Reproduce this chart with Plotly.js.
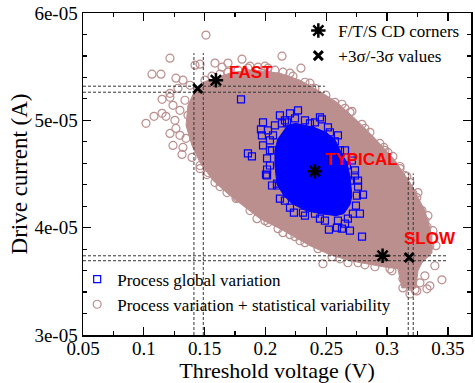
<!DOCTYPE html>
<html>
<head>
<meta charset="utf-8">
<script src="https://cdn.plot.ly/plotly-3.0.1.min.js"></script>
<style>html,body{margin:0;padding:0;background:#fff;}#chart{width:475px;height:383px;}</style>
</head>
<body>
<div id="chart"></div>
<script>
// ---- Data (threshold voltage in V, drive current in A) ----
// Dense part of "process variation + statistical variability" cloud (outline)
var cloudVt = [0.1486,0.1585,0.1733,0.1914,0.2119,0.2284,0.2432,0.2588,0.2752,0.2900,0.3065,0.3204,0.3311,0.3369,0.3369,0.3287,0.3254,0.3237,0.3122,0.3089,0.2966,0.2695,0.2530,0.2366,0.2119,0.1955,0.1832,0.1708,0.1569,0.1462,0.1396,0.1347,0.1363,0.1421];
var cloudId = [5.355e-5,5.393e-5,5.449e-5,5.467e-5,5.439e-5,5.374e-5,5.280e-5,5.168e-5,5.000e-5,4.832e-5,4.626e-5,4.393e-5,4.159e-5,3.925e-5,3.766e-5,3.673e-5,3.598e-5,3.439e-5,3.439e-5,3.617e-5,3.636e-5,3.692e-5,3.748e-5,3.832e-5,3.991e-5,4.084e-5,4.187e-5,4.299e-5,4.439e-5,4.607e-5,4.766e-5,4.953e-5,5.140e-5,5.280e-5];
// Individual sample points around the cloud
var statVt = [0.1511,0.1215,0.1067,0.1141,0.1018,0.1084,0.1150,0.1182,0.1150,0.1215,0.1264,0.1322,0.1462,0.1585,0.1692,0.1215,0.1240,0.1314,0.1396,0.1462,0.1240,0.1297,0.1807,0.2136,0.2292,0.2144,0.2202,0.1643,0.1421,0.2382,0.2448,0.2571,0.2711,0.2941,0.2974,0.3048,0.3213,0.3007,0.3106,0.3188,0.3245,0.3287,0.3311,0.3328,0.3451,0.3352,0.3245,0.3188,0.3130,0.2473,0.3328,0.3229,0.3130,0.1914,0.1996,0.2103,0.2144,0.2325,0.2547,0.2678,0.1528,0.1585,0.1684,0.1766,0.1930,0.1322,0.1215,0.1256,0.1297,0.1338,0.1363,0.1281,0.1264,0.1380,0.1347,0.1873,0.1996,0.2366,0.2654,0.2818,0.3147,0.3352,0.3040,0.2818,0.2243,
  0.1503,0.1560,0.1626,0.1692,0.1774,0.1856,0.1939,0.2021,0.2078,0.2226,0.2325,0.2407,0.2497,0.2629,0.2695,0.2793,0.2859,0.2982,0.3106,0.3163,0.3254,0.3336,0.3377,0.3402,
  0.1462,0.1519,0.1626,0.1758,0.1873,0.2021,0.2202,0.2284,0.2432,0.2613,0.2761,0.2900,0.3024,
  0.3147,0.3204,0.3270,0.3311,0.3393];
var statId = [5.794e-5,5.579e-5,5.430e-5,5.430e-5,4.972e-5,5.037e-5,5.065e-5,5.037e-5,5.196e-5,5.215e-5,5.393e-5,5.374e-5,5.523e-5,5.533e-5,5.533e-5,4.878e-5,4.766e-5,4.682e-5,4.654e-5,4.551e-5,5.140e-5,5.093e-5,5.570e-5,5.598e-5,5.486e-5,5.449e-5,5.439e-5,5.495e-5,5.514e-5,5.299e-5,5.215e-5,5.168e-5,5.084e-5,4.785e-5,4.748e-5,4.664e-5,4.318e-5,4.701e-5,4.551e-5,4.421e-5,4.280e-5,4.159e-5,4.065e-5,4.009e-5,3.514e-5,3.458e-5,3.411e-5,3.383e-5,3.439e-5,3.664e-5,3.430e-5,3.421e-5,3.523e-5,4.224e-5,4.065e-5,3.991e-5,3.953e-5,3.860e-5,3.729e-5,3.673e-5,4.514e-5,4.421e-5,4.327e-5,4.280e-5,4.084e-5,4.748e-5,5.252e-5,5.000e-5,4.860e-5,5.187e-5,5.047e-5,5.299e-5,4.925e-5,5.327e-5,4.832e-5,5.505e-5,5.505e-5,5.346e-5,5.112e-5,4.925e-5,4.486e-5,3.832e-5,3.598e-5,3.654e-5,3.916e-5,
  5.374e-5,5.411e-5,5.430e-5,5.449e-5,5.467e-5,5.486e-5,5.495e-5,5.486e-5,5.467e-5,5.411e-5,5.355e-5,5.299e-5,5.234e-5,5.150e-5,5.075e-5,4.963e-5,4.888e-5,4.720e-5,4.570e-5,4.477e-5,4.327e-5,4.112e-5,3.972e-5,3.832e-5,
  4.579e-5,4.495e-5,4.383e-5,4.271e-5,4.159e-5,4.047e-5,3.935e-5,3.878e-5,3.804e-5,3.710e-5,3.673e-5,3.636e-5,3.617e-5,
  3.505e-5,3.467e-5,3.486e-5,3.551e-5,3.645e-5];
// Dense core of "process global variation" (outline)
var coreVt = [0.2177,0.2251,0.2325,0.2399,0.2497,0.2571,0.2621,0.2670,0.2695,0.2711,0.2695,0.2645,0.2580,0.2448,0.2333,0.2218,0.2152,0.2095,0.2078,0.2078,0.2103];
var coreId = [4.953e-5,4.972e-5,4.953e-5,4.935e-5,4.888e-5,4.822e-5,4.701e-5,4.607e-5,4.477e-5,4.299e-5,4.215e-5,4.131e-5,4.112e-5,4.131e-5,4.159e-5,4.224e-5,4.299e-5,4.402e-5,4.579e-5,4.720e-5,4.832e-5];
// Individual global-variation samples
var globVt = [0.1799,0.1856,0.1889,0.1980,0.1963,0.1971,0.1980,0.2021,0.2054,0.2013,0.2013,0.2013,0.2095,0.2119,0.2202,0.2268,0.2366,0.2448,0.2464,0.2530,0.2571,0.2136,0.2177,0.2670,0.2695,0.2761,0.2761,0.2802,0.2777,0.2794,0.2695,0.2629,0.2588,0.2522,0.2489,0.2654,0.2234,0.2308,0.2095,0.2004,0.2407,0.2719,0.2078,0.2613,0.2736,0.2160,0.2037,
  0.2160,0.2243,0.2325,0.2407,0.2514,0.2596,0.2654,0.2711,0.2736,0.2752,0.2744,0.2678,0.2596,0.2448,0.2325,0.2202,0.2119,0.2054,0.2037,0.2037,0.2062];
var globId = [5.196e-5,4.692e-5,4.664e-5,4.981e-5,4.916e-5,4.860e-5,4.766e-5,4.907e-5,4.720e-5,4.645e-5,4.542e-5,4.486e-5,4.393e-5,5.047e-5,5.065e-5,5.093e-5,4.972e-5,5.028e-5,5.009e-5,4.888e-5,4.804e-5,4.972e-5,4.981e-5,4.579e-5,4.439e-5,4.439e-5,4.383e-5,4.308e-5,4.131e-5,3.916e-5,3.972e-5,3.991e-5,4.000e-5,3.981e-5,4.065e-5,4.037e-5,4.140e-5,4.140e-5,4.411e-5,4.495e-5,4.131e-5,4.131e-5,4.953e-5,4.720e-5,4.533e-5,4.252e-5,4.813e-5,
  5.000e-5,5.019e-5,5.000e-5,4.981e-5,4.935e-5,4.860e-5,4.720e-5,4.626e-5,4.486e-5,4.299e-5,4.206e-5,4.084e-5,4.065e-5,4.084e-5,4.112e-5,4.187e-5,4.271e-5,4.393e-5,4.579e-5,4.720e-5,4.860e-5];
// Fast / Typical / Slow corners
var cornerVt = [0.1593,0.2407,0.2963];
var cornerId = [5.374e-5,4.526e-5,3.738e-5];
var cornerNames = ["FAST","TYPICAL","SLOW"];
// +3 sigma / -3 sigma values
var sigmaVt = [0.1443,0.3182];
var sigmaId = [5.296e-5,3.722e-5];
// Guide lines (dashed)
var fastHlineId = [5.318e-5,5.262e-5];
var fastHlineEndVt = 0.2489;
var fastVlineVt = [0.1412,0.1489];
var fastVlineTopId = 5.626e-5;
var slowHlineId = [3.738e-5,3.692e-5];
var slowHlineEndVt = 0.35;
var slowVlineVt = [0.3174,0.3215];
var slowVlineTopId = 4.505e-5;
// Axes
var xTickVals = [0.05,0.1,0.15,0.2,0.25,0.3,0.35];
var xTickText = ["0.05","0.1","0.15","0.2","0.25","0.3","0.35"];
var yTickVals = [3e-5,4e-5,5e-5,6e-5];
var yTickText = ["3e-05","4e-05","5e-05","6e-05"];
var xMin = 0.05, xMax = 0.369, yMin = 3e-5, yMax = 6e-5;

var brown = "rgb(188,143,143)";
var serif = "Liberation Serif, Times New Roman, serif";
var traces = [];

traces.push({x: cloudVt, y: cloudId, type: "scatter", mode: "lines", fill: "toself",
  fillcolor: brown, line: {color: brown, width: 1}, showlegend: false, hoverinfo: "skip"});
traces.push({x: statVt, y: statId, type: "scatter", mode: "markers", name: "Process variation + statistical variability",
  legend: "legend2", legendrank: 2,
  marker: {symbol: "circle-open", size: 8, color: brown, line: {width: 1.2, color: brown}}});
traces.push({x: coreVt, y: coreId, type: "scatter", mode: "lines", fill: "toself",
  fillcolor: "#0000ff", line: {color: "#0000ff", width: 1}, showlegend: false, hoverinfo: "skip"});
traces.push({x: globVt, y: globId, type: "scatter", mode: "markers", name: "Process global variation",
  legend: "legend2", legendrank: 1,
  marker: {symbol: "square-open", size: 7, color: "#0000ff", line: {width: 1.2, color: "#0000ff"}}});

function dashed(xs, ys) {
  traces.push({x: xs, y: ys, type: "scatter", mode: "lines", showlegend: false, hoverinfo: "skip",
    line: {color: "#333", width: 1, dash: "3px,2px"}});
}
fastHlineId.forEach(function (v) { dashed([xMin, fastHlineEndVt], [v, v]); });
fastVlineVt.forEach(function (v) { dashed([v, v], [yMin, fastVlineTopId]); });
slowHlineId.forEach(function (v) { dashed([xMin, slowHlineEndVt], [v, v]); });
slowVlineVt.forEach(function (v) { dashed([v, v], [yMin, slowVlineTopId]); });

traces.push({x: cornerVt, y: cornerId, type: "scatter", mode: "markers", name: "F/T/S CD corners",
  legend: "legend", legendrank: 1,
  marker: {symbol: "asterisk-open", size: 12, color: "#000", line: {width: 2.5, color: "#000"}}});
traces.push({x: sigmaVt, y: sigmaId, type: "scatter", mode: "markers", name: "+3σ/-3σ values",
  legend: "legend", legendrank: 2,
  marker: {symbol: "x-thin-open", size: 9, color: "#000", line: {width: 3, color: "#000"}}});

var labelPos = [[0.1684, 5.449e-5], [0.2473, 4.635e-5], [0.3122, 3.897e-5]];
var annotations = cornerNames.map(function (n, i) {
  return {x: labelPos[i][0], y: labelPos[i][1], text: "<b>" + n + "</b>", showarrow: false,
    xanchor: "left", yanchor: "middle", font: {family: "Liberation Sans, Arial, sans-serif", size: 17, color: "#ff0000"}};
});

var axisCommon = {showline: true, linecolor: "#000", linewidth: 1.5, mirror: "ticks", ticks: "inside",
  ticklen: 8, tickwidth: 1.3, tickcolor: "#000", showgrid: false, zeroline: false,
  tickfont: {family: serif, size: 19, color: "#000"}};

var layout = {
  width: 475, height: 383,
  margin: {l: 83, r: 4, t: 13, b: 48},
  paper_bgcolor: "#fff", plot_bgcolor: "#fff",
  showlegend: true,
  xaxis: Object.assign({}, axisCommon, {range: [xMin, xMax], tickmode: "array", tickvals: xTickVals, ticktext: xTickText,
    ticklabelstandoff: -4,
    minor: {dtick: 0.025, tick0: 0.05, ticks: "inside", ticklen: 4, tickwidth: 1.2, tickcolor: "#000", showgrid: false},
    title: {text: "Threshold voltage (V)", font: {family: serif, size: 22, color: "#000"}}}),
  yaxis: Object.assign({}, axisCommon, {range: [yMin, yMax], tickmode: "array", tickvals: yTickVals, ticktext: yTickText,
    minor: {dtick: 2e-6, tick0: 3e-5, ticks: "inside", ticklen: 4, tickwidth: 1.2, tickcolor: "#000", showgrid: false},
    title: {text: "Drive current (A)", font: {family: serif, size: 23, color: "#000"}}}),
  legend: {x: 0.555, y: 1.0, xanchor: "left", yanchor: "top", bgcolor: "rgba(0,0,0,0)",
    font: {family: serif, size: 17, color: "#000"}, tracegroupgap: 0, itemwidth: 30},
  legend2: {x: -0.015, y: 0.228, xanchor: "left", yanchor: "top", bgcolor: "rgba(0,0,0,0)",
    font: {family: serif, size: 17, color: "#000"}, tracegroupgap: 0, itemwidth: 30},
  annotations: annotations
};

Plotly.newPlot("chart", traces, layout, {displayModeBar: false, staticPlot: true});
</script>
</body>
</html>
